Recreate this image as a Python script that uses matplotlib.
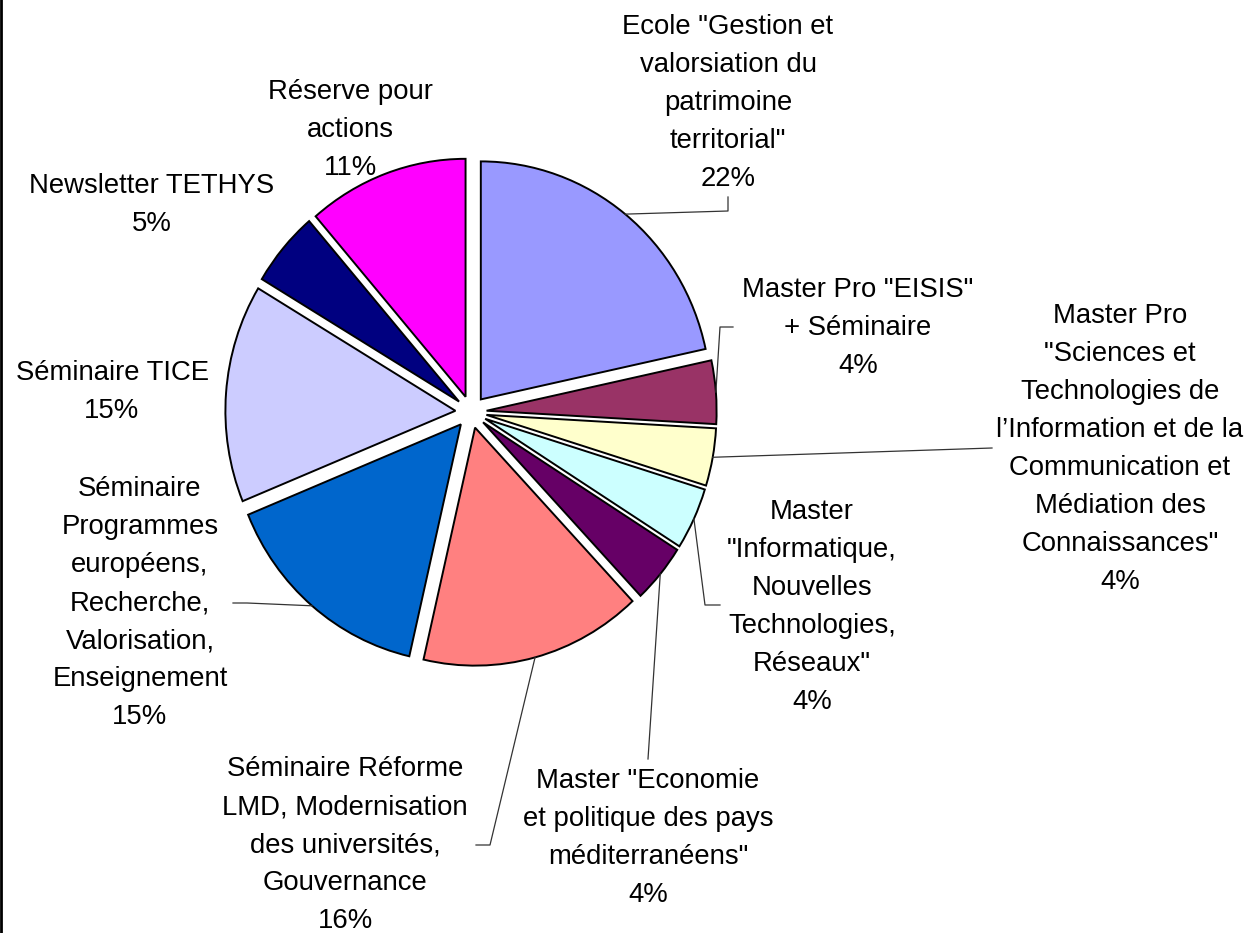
import numpy as np
import matplotlib
import matplotlib.pyplot as plt

matplotlib.rcParams['font.family'] = ['Liberation Sans', 'DejaVu Sans']

# ---------- données ----------
labels = [
    'Ecole "Gestion et\nvalorsiation du\npatrimoine\nterritorial"',
    'Master Pro "EISIS"\n+ Séminaire',
    'Master Pro\n"Sciences et\nTechnologies de\nl’Information et de la\nCommunication et\nMédiation des\nConnaissances"',
    'Master\n"Informatique,\nNouvelles\nTechnologies,\nRéseaux"',
    'Master "Economie\net politique des pays\nméditerranéens"',
    'Séminaire Réforme\nLMD, Modernisation\ndes universités,\nGouvernance',
    'Séminaire\nProgrammes\neuropéens,\nRecherche,\nValorisation,\nEnseignement',
    'Séminaire TICE',
    'Newsletter TETHYS',
    'Réserve pour\nactions',
]
values = [21.6, 4.3, 3.9, 4.2, 4.0, 15.6, 15.2, 14.8, 5.1, 11.3]
colors = ['#9999FF', '#993366', '#FFFFCC', '#CCFFFF', '#660066',
          '#FF8080', '#0066CC', '#CCCCFF', '#000080', '#FF00FF']

# ---------- mise en page (pixels) ----------
W, H = 1248, 933
CX, CY = 471, 412      # centre du camembert
RX, RY = 230, 238      # rayons (légèrement aplati)
EXPLODE = 0.068

label_pos = [(728, 103), (858, 328), (1120, 449), (812, 607), (648, 838),
             (345, 845), (140, 603), (112, 392), (152, 205), (350, 130)]
# points de coude des traits de rappel (None = pas de trait)
leader_pts = [[(728, 211), (728, 197)],
              [(720, 327), (733, 327)],
              [(992, 448)],
              [(705, 605), (720, 605)],
              [(648, 759)],
              [(490, 845), (476, 845)],
              [(247, 603), (233, 603)],
              None, None, None]


def px(x, y):
    return (x - CX) / RX, (CY - y) / RY


fig = plt.figure(figsize=(W / 100, H / 100), dpi=100)
ax = fig.add_axes([0, 0, 1, 1])

wedges, _ = ax.pie(values, colors=colors, startangle=90, counterclock=False,
                   explode=[EXPLODE] * len(values), radius=1,
                   wedgeprops=dict(edgecolor='black', linewidth=1.4))

ax.set_aspect('auto')
ax.set_xlim(-CX / RX, (W - CX) / RX)
ax.set_ylim(-(H - CY) / RY, CY / RY)
ax.axis('off')

for w, lab, v, pos, pts in zip(wedges, labels, values, label_pos, leader_pts):
    x, y = px(*pos)
    ax.text(x, y, f"{lab}\n{round(v)}%", ha='center', va='center',
            multialignment='center', fontsize=19.8, linespacing=1.6)
    if pts is None:
        continue
    b = np.deg2rad((w.theta1 + w.theta2) / 2)
    xs = [(1 + EXPLODE) * np.cos(b)] + [px(*p)[0] for p in pts]
    ys = [(1 + EXPLODE) * np.sin(b)] + [px(*p)[1] for p in pts]
    ax.plot(xs, ys, color='#333333', lw=0.9)

# bord gauche du cadre
fig.add_artist(plt.Line2D([0.001, 0.001], [0, 1], color='black', lw=2,
                          transform=fig.transFigure))

fig.savefig('out.png', dpi=100, facecolor='white')
